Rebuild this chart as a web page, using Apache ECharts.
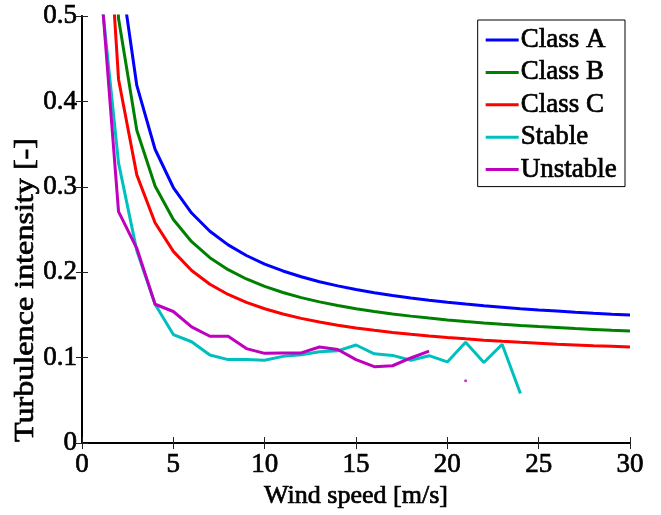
<!DOCTYPE html>
<html>
<head>
<meta charset="utf-8">
<script src="https://cdn.jsdelivr.net/npm/echarts@6/dist/echarts.min.js"></script>
<style>
  html, body { margin: 0; padding: 0; background: #fff; }
  #chart { width: 661px; height: 515px; }
</style>
</head>
<body>
<div id="chart"></div>
<script>
// Wind speed axis samples [m/s]
const speeds = [1,2,3,4,5,6,7,8,9,10,11,12,13,14,15,16,17,18,19,20,21,22,23,24,25,26,27,28,29,30];

// Turbulence class reference curves
const classA = [1.016,0.568,0.4187,0.344,0.2992,0.2693,0.248,0.232,0.2196,0.2096,0.2015,0.1947,0.1889,0.184,0.1797,0.176,0.1727,0.1698,0.1672,0.1648,0.1627,0.1607,0.159,0.1573,0.1558,0.1545,0.1532,0.152,0.1509,0.1499];
const classB = [0.889,0.497,0.3663,0.301,0.2618,0.2357,0.217,0.203,0.1921,0.1834,0.1763,0.1703,0.1653,0.161,0.1573,0.154,0.1511,0.1486,0.1463,0.1442,0.1423,0.1406,0.1391,0.1377,0.1364,0.1352,0.134,0.133,0.132,0.1311];
const classC = [0.762,0.426,0.314,0.258,0.2244,0.202,0.186,0.174,0.1647,0.1572,0.1511,0.146,0.1417,0.138,0.1348,0.132,0.1295,0.1273,0.1254,0.1236,0.122,0.1205,0.1192,0.118,0.1169,0.1158,0.1149,0.114,0.1132,0.1124];

// Measured turbulence intensity per wind-speed bin (null = empty bin)
const stable = [0.535,0.328,0.225,0.1625,0.127,0.1186,0.103,0.0977,0.0977,0.097,0.1015,0.1034,0.1068,0.108,0.1148,0.1045,0.1026,0.097,0.1023,0.095,0.118,0.0943,0.1156,0.058];
const unstable = [0.547,0.271,0.228,0.1625,0.154,0.136,0.125,0.125,0.1106,0.105,0.1053,0.1055,0.1125,0.1095,0.0977,0.0894,0.0905,0.0996,0.1076,null,0.073];

// Axis ticks
const xTicks = [0,5,10,15,20,25,30];
const yTicks = [0,0.1,0.2,0.3,0.4,0.5];

const seriesNames = ['Class A','Class B','Class C','Stable','Unstable'];
const seriesColors = ['#0000ff','#008000','#ff0000','#00bfbf','#bf00bf'];

const FONT = '"Liberation Serif", "Times New Roman", serif';
// Slightly heavier serif text
const ink = { fontFamily: FONT, color: '#000', textBorderColor: '#000', textBorderWidth: 0.7 };

function pairs(values) {
  return values.map((v, i) => [speeds[i], v]);
}
// Points whose neighbours are both empty cannot form a line segment
function isolated(values) {
  const out = [];
  values.forEach((v, i) => {
    if (v == null) return;
    const prev = i > 0 ? values[i - 1] : null;
    const next = i < values.length - 1 ? values[i + 1] : null;
    if (prev == null && next == null) out.push([speeds[i], v]);
  });
  return out;
}

const lineData = [classA, classB, classC, stable, unstable];

const series = lineData.map((vals, k) => ({
  name: seriesNames[k],
  type: 'line',
  data: pairs(vals),
  showSymbol: false,
  connectNulls: false,
  clip: true,
  lineStyle: { width: 3, color: seriesColors[k] },
  itemStyle: { color: seriesColors[k] },
  emphasis: { disabled: true },
  z: 2 + k
}));

series.push({
  name: 'unstable-single',
  type: 'scatter',
  data: isolated(unstable),
  symbol: 'circle',
  symbolSize: 3,
  itemStyle: { color: seriesColors[4] },
  z: 10
});

const axisLineStyle = { color: '#000', width: 2 };
const boxLineStyle = { color: '#000', width: 1.5 };
const tickStyle = { color: '#222', width: 1 };

const chart = echarts.init(document.getElementById('chart'), null, { renderer: 'canvas' });
chart.setOption({
  animation: false,
  backgroundColor: '#fff',
  textStyle: { fontFamily: FONT },
  grid: { left: 82, right: 31, top: 16, bottom: 59 },
  legend: {
    data: seriesNames,
    orient: 'vertical',
    right: 36,
    top: 20,
    icon: 'rect',
    itemWidth: 33,
    itemHeight: 3,
    itemGap: 0.4,
    padding: [4, 8, 1, 8],
    borderColor: '#000',
    borderWidth: 1,
    backgroundColor: '#fff',
    textStyle: Object.assign({ fontSize: 27, lineHeight: 32, padding: [0, 0, 0, -3] }, ink),
    selectedMode: false
  },
  // Vertical axis title, stretched along its reading direction
  graphic: [{
    type: 'text',
    x: 26,
    y: 290,
    rotation: Math.PI / 2,
    scaleX: 1.19,
    silent: true,
    style: {
      text: 'Turbulence intensity [-]',
      fontFamily: FONT,
      fontSize: 27,
      fill: '#000',
      stroke: '#000',
      lineWidth: 0.7,
      align: 'center',
      verticalAlign: 'middle'
    }
  }],
  xAxis: [{
    type: 'value',
    min: xTicks[0],
    max: xTicks[xTicks.length - 1],
    interval: xTicks[1] - xTicks[0],
    name: 'Wind speed [m/s]',
    nameLocation: 'middle',
    nameGap: 40,
    nameTextStyle: Object.assign({ fontSize: 26 }, ink),
    axisLine: { show: true, lineStyle: axisLineStyle },
    axisTick: { show: true, inside: true, length: 6, lineStyle: tickStyle },
    axisLabel: Object.assign({ fontSize: 27, margin: 8 }, ink),
    splitLine: { show: false }
  }, {
    type: 'value',
    position: 'top',
    min: xTicks[0],
    max: xTicks[xTicks.length - 1],
    interval: xTicks[1] - xTicks[0],
    axisLine: { show: true, lineStyle: boxLineStyle },
    axisTick: { show: true, inside: true, length: 6, lineStyle: tickStyle },
    axisLabel: { show: false },
    splitLine: { show: false }
  }],
  yAxis: [{
    type: 'value',
    min: yTicks[0],
    max: yTicks[yTicks.length - 1],
    interval: 0.1,
    axisLine: { show: true, lineStyle: axisLineStyle },
    axisTick: { show: true, inside: true, length: 6, lineStyle: tickStyle },
    axisLabel: Object.assign({ fontSize: 27, margin: 5,
      formatter: v => String(Math.round(v * 10) / 10) }, ink),
    splitLine: { show: false }
  }, {
    type: 'value',
    position: 'right',
    min: yTicks[0],
    max: yTicks[yTicks.length - 1],
    interval: 0.1,
    axisLine: { show: true, lineStyle: boxLineStyle },
    axisTick: { show: true, inside: true, length: 6, lineStyle: tickStyle },
    axisLabel: { show: false },
    splitLine: { show: false }
  }],
  series: series
});
</script>
</body>
</html>
